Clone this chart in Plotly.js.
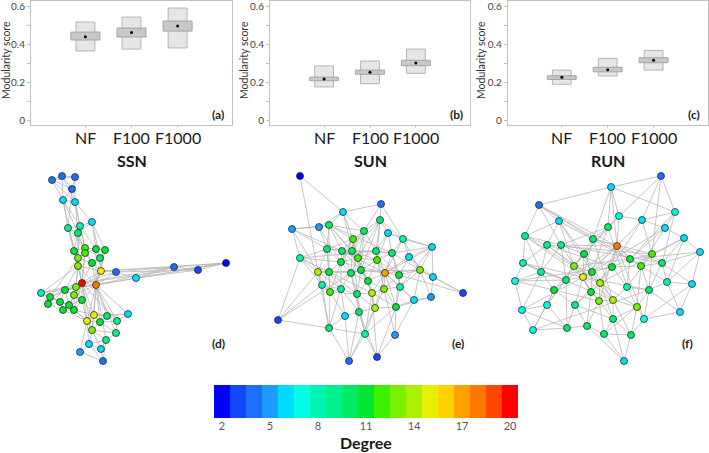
<!DOCTYPE html>
<html><head><meta charset="utf-8">
<script src="https://cdn.plot.ly/plotly-3.0.1.min.js"></script>
<style>html,body{margin:0;padding:0;background:#fff}#chart{width:709px;height:453px}</style>
</head><body><div id="chart"></div>
<script>
// ---------- top panels: modularity score ----------
const groups = ['NF', 'F100', 'F1000'];
const ssnOuterLow  = [0.366, 0.376, 0.382];
const ssnOuterHigh = [0.519, 0.545, 0.593];
const ssnBandLow   = [0.424, 0.440, 0.471];
const ssnBandHigh  = [0.466, 0.487, 0.524];
const ssnMean      = [0.441, 0.464, 0.498];

const sunOuterLow  = [0.176, 0.193, 0.248];
const sunOuterHigh = [0.287, 0.313, 0.376];
const sunBandLow   = [0.209, 0.243, 0.288];
const sunBandHigh  = [0.228, 0.265, 0.317];
const sunMean      = [0.218, 0.253, 0.302];

const runOuterLow  = [0.190, 0.234, 0.265];
const runOuterHigh = [0.265, 0.327, 0.369];
const runBandLow   = [0.216, 0.256, 0.304];
const runBandHigh  = [0.235, 0.280, 0.330];
const runMean      = [0.227, 0.267, 0.317];

const networkNames = ['SSN', 'SUN', 'RUN'];
const yTicks = [0, 0.2, 0.4, 0.6];
const yTickText = ['0', '0.2', '0.4', '0.6'];

// ---------- degree colour scale ----------
const degrees = [2,3,4,5,6,7,8,9,10,11,12,13,14,15,16,17,18,19,20];
const degreeColors = ['#0000ff','#1446ff','#1e6eff','#1e9bff','#00dcff','#00ffe6','#00f5b4','#00f08c',
  '#00eb64','#00e632','#3cf000','#78f000','#aaf000','#e6f000','#ffd200','#ffa000','#ff7800','#ff4600','#ff0000'];
const degreeTicks = [2,5,8,11,14,17,20];

// ---------- networks (layout coordinates, degree, links) ----------
const ssnX = [52,62,75,72,63,75,92,68,80,78, 74,85,96,105,85,78,100,92,78,101, 116,136,174,198,226,82,96,41,50,65,
  76,74,82,48,60,69,63,74,128,94, 107,87,100,117,92,116,106,89,80,101, 103];
const ssnY = [30,26,27,39,50,52,72,78,76,83, 101,98,99,100,103,108,108,113,116,121, 122,128,117,120,113,133,135,143,147,140,
  137,145,150,154,152,155,160,160,164,165, 166,171,172,171,180,183,190,194,202,199, 211];
const ssnDeg = [4,4,4,4,6,6,6,9,8,10, 11,12,11,11,12,13,10,11,13,15, 4,6,4,3,2,20,18,8,11,11,
  13,13,11,11,11,11,11,11,6,15, 10,15,11,9,13,9,9,6,5,6, 4];
const ssnLinks = [
  [1,[2,3,4,5,6]],[2,[3,4,5,6]],[3,[4,6]],[4,[5,6,8]],[5,[6,8,9,10,11]],[6,[7,9,10,12]],
  [7,[9,10,13,14,17]],[8,[9,10,11,12,16]],[9,[10,12,13,16]],[10,[11,15,16,19]],
  [11,[12,15,16,19,26]],[12,[13,15,17,18,26]],[13,[14,15,17,27]],[14,[17,20,27]],[15,[16,18,26]],
  [16,[18,19,26,29,31]],[17,[18,20,27]],[18,[20,26,27]],[19,[20,26,27,28,30,31]],[20,[21,23,25,26,27]],
  [21,[22,23,24,26,27]],[22,[23,24,25,27]],[23,[24,25,26,27]],[24,[25]],[25,[26,27]],
  [26,[27,28,29,30,31,32,33,36,38,40,42,44,45]],[27,[30,31,32,33,39,40,41,42,43,44,45,46,47]],
  [28,[29,30,31,34,35]],[29,[30,31,34,35,36]],[30,[31,32,34,35,36]],[31,[32,33]],[32,[33,36,38]],
  [33,[36,38,40,42]],[34,[35,37]],[35,[36,37]],[36,[37,38,42]],[37,[38,42]],[38,[40,42]],
  [39,[40,41,44]],[40,[41,42,43,45]],[41,[43,44]],[42,[43,45,48,49]],[43,[44,45,46]],[44,[46]],
  [45,[46,47,48,50]],[46,[47]],[47,[48,50,51]],[48,[49,50,51]],[49,[51]],[50,[51]]
];

const sunX = [60,141,103,52,79,89,140,124,148,163, 113,192,60,87,102,112,136,152,169,101, 118,137,78,89,111,121,145,159,180,193,
  82,128,90,101,117,132,144,160,223,191, 174,135,156,119,105,38,89,125,155,109, 137];
const sunY = [26,54,62,79,77,75,70,81,83,89, 89,97,108,99,101,101,101,103,107,112, 108,110,122,122,123,120,123,125,120,127,
  135,131,142,139,144,143,139,137,143,147, 150,158,157,162,166,170,178,184,185,211, 207];
const sunDeg = [2,4,6,5,5,10,10,10,6,8, 12,6,8,10,10,10,10,10,6,11, 12,12,14,11,10,11,17,11,13,6,
  8,11,12,9,10,14,13,8,3,5, 6,14,11,10,6,3,10,8,5,4, 3];
const sunLinks = [
  [1,[3,23]],[2,[3,7,8,10]],[3,[5,6,8,11,16]],[4,[5,6,13,14,21,23]],[5,[6,14,20]],
  [6,[8,11,14,15,16,21,24,18]],[7,[8,9,10,16,17,21,22,26]],[8,[11,15,16,17,20,21,26]],[9,[10,12,17,18,22]],
  [10,[12,18,19,27,29]],[11,[14,15,16,20,21,25,35]],[12,[18,19,27,29,30,38]],[13,[14,17,20,23,24,31,46,36]],
  [14,[15,18,20,23,24,33]],[15,[16,20,21,25,26,27]],[16,[17,21,22,26,32]],[17,[18,21,22,27,28,37]],
  [18,[22,27,28,29,38]],[19,[27,28,29,30]],[20,[21,24,25,27,33,34]],[21,[22,25,26,32,36]],
  [22,[26,27,28,32,37]],[23,[24,31,33,34,46,47,29]],[24,[25,31,33,34,35]],[25,[26,32,34,35,44]],
  [26,[27,32,35,36]],[27,[28,29,32,36,37,38,41,42,43]],[28,[29,37,38,39,43]],[29,[30,38,39,40,41]],
  [30,[39,40]],[31,[33,34,46,47]],[32,[35,36,37,42]],[33,[34,35,45,47]],[34,[35,44,45,47]],
  [35,[36,42,44,48]],[36,[37,42,43,48,51]],[37,[38,42,43,49]],[38,[41,43]],[40,[41,43]],[41,[43,49]],
  [42,[43,44,48,50]],[43,[48,49,51]],[44,[45,48,50,51]],[45,[47,50]],[46,[47,25]],[47,[48,50]],
  [48,[50,51]],[49,[51]]
];

const runX = [191,141,69,205,89,149,172,195,138,55, 77,91,123,214,147,230,114,160,182,53, 104,142,171,192,71,122,45,96,113,130,
  197,222,84,121,157,179,129,143,52,77, 105,167,210,143,174,63,97,117,134,161, 154];
const runY = [26,37,55,62,71,66,70,78,77,86, 95,95,89,88,96,102,104,109,104,113, 116,117,116,113,122,122,131,130,127,133,
  132,134,140,142,137,140,151,150,160,155, 155,157,162,169,169,180,178,176,184,185, 211];
const runDeg = [4,6,4,7,6,7,6,6,10,9, 9,9,10,6,18,6,11,11,12,8, 13,11,12,10,9,11,7,10,15,14,
  8,6,11,11,8,10,13,14,7,7, 9,13,6,10,7,7,10,10,10,10, 6];
const runLinks = [
  [1,[2,4,7,9,19]],[2,[3,4,6,9,13,15]],[3,[5,10,12,13,18,15]],[4,[7,8,18,24]],[5,[10,11,17,21,26,23]],
  [6,[7,9,15,21]],[7,[8,15,19,22]],[8,[14,18,23,29]],[9,[12,13,17,26,35]],[10,[11,12,20,25,29,30]],
  [11,[20,21,22,25,30,19]],[12,[15,17,25,28,34,24]],[13,[15,19,21,29,38]],[14,[16,19,24,31,30]],
  [15,[18,22,23,24,26,28,29,30,37,45]],[16,[18,24,31,32]],[17,[21,26,29,33,38]],[18,[19,21,22,23,35]],
  [19,[23,24,35,36]],[20,[25,27,28,29,38]],[21,[26,28,37,40]],[22,[23,26,30,35,41,27]],[23,[24,31,36,42]],
  [24,[31,32,36]],[25,[27,28,33,39]],[26,[30,34,38]],[27,[28,33,39]],[28,[29,33,40,47]],
  [29,[30,34,36,38,41,39]],[30,[34,37,42,44]],[31,[32,36,43]],[32,[43,45]],[33,[37,40,41,46]],
  [34,[37,41,48]],[35,[36,38,42]],[36,[42,43,45,46]],[37,[38,44,48,49]],[38,[42,44,50]],
  [39,[40,46,47]],[40,[46,47]],[41,[44,47,48]],[42,[44,45,49,50]],[43,[45]],[44,[49,50,51]],
  [45,[50]],[46,[47]],[47,[48]],[48,[49,51]],[49,[50,51]],[50,[51]]
];

// ---------- helpers ----------
const W = 709, H = 453;
const px = v => v / W;
const py = v => 1 - v / H;
const FONT = 'Lato, "Open Sans", sans-serif';

const stepScale = [];
degreeColors.forEach((c, i) => {
  stepScale.push([i / degreeColors.length, c]);
  stepScale.push([(i + 1) / degreeColors.length, c]);
});

const traces = [];
const layout = {
  width: W, height: H, margin: {l: 0, r: 0, t: 0, b: 0},
  paper_bgcolor: '#fff', plot_bgcolor: '#fff',
  showlegend: false, barmode: 'overlay', hovermode: false,
  font: {family: FONT, color: '#333'},
  annotations: []
};

const panels = [
  {oL: ssnOuterLow, oH: ssnOuterHigh, bL: ssnBandLow, bH: ssnBandHigh, m: ssnMean, x0: 31, x1: 232, tx: 6, tag: '(a)'},
  {oL: sunOuterLow, oH: sunOuterHigh, bL: sunBandLow, bH: sunBandHigh, m: sunMean, x0: 270, x1: 470, tx: 244, tag: '(b)'},
  {oL: runOuterLow, oH: runOuterHigh, bL: runBandLow, bH: runBandHigh, m: runMean, x0: 507.7, x1: 707.7, tx: 481, tag: '(c)'}
];
const cats = groups.map((g, i) => i);

panels.forEach((p, k) => {
  const n = k + 1;
  const xa = 'x' + (n === 1 ? '' : n), ya = 'y' + (n === 1 ? '' : n);
  traces.push({type: 'bar', x: cats, base: p.oL, y: p.oH.map((v, i) => v - p.oL[i]), width: 0.41,
    xaxis: xa, yaxis: ya, marker: {color: '#e6e6e6', line: {color: '#b4b4b4', width: 1}}});
  traces.push({type: 'bar', x: cats, base: p.bL, y: p.bH.map((v, i) => v - p.bL[i]), width: 0.63,
    xaxis: xa, yaxis: ya, marker: {color: '#c8c8c8', line: {color: '#a4a4a4', width: 1}}});
  traces.push({type: 'scatter', mode: 'markers', x: cats, y: p.m, xaxis: xa, yaxis: ya,
    marker: {color: '#000', size: 3}});
  layout['xaxis' + (n === 1 ? '' : n)] = {
    domain: [px(p.x0), px(p.x1)], anchor: ya, range: [-1.18, 3.18],
    tickvals: cats, showticklabels: false, ticks: 'outside', ticklen: 2, tickcolor: '#d0d0d0',
    showgrid: false, zeroline: false,
    showline: true, linecolor: '#c0c0c0', linewidth: 1, mirror: true, fixedrange: true
  };
  layout['yaxis' + (n === 1 ? '' : n)] = {
    domain: [py(125), py(1)], anchor: xa, range: [-0.025, 0.63],
    tickvals: yTicks, ticktext: yTickText, ticks: 'outside', ticklen: 3, tickcolor: '#c0c0c0',
    ticklabeloverflow: 'allow',
    minor: {dtick: 0.1, ticks: 'outside', ticklen: 3, tickcolor: '#c0c0c0'},
    tickfont: {size: 10, color: '#444', family: FONT}, showgrid: false, zeroline: false,
    showline: true, linecolor: '#c0c0c0', linewidth: 1, mirror: true, fixedrange: true
  };
  groups.forEach((g, i) => layout.annotations.push({xref: xa, yref: 'paper', x: cats[i], y: py(137), text: g,
    showarrow: false, font: {size: 16, color: '#1a1a1a', family: FONT}, xanchor: 'center', yanchor: 'middle'}));
  layout.annotations.push({xref: 'paper', yref: 'paper', x: px(p.tx), y: py(60), text: 'Modularity score',
    textangle: -90, showarrow: false, font: {size: 10.5, color: '#333', family: FONT}, xanchor: 'center', yanchor: 'middle'});
  layout.annotations.push({xref: 'paper', yref: 'paper', x: px(p.x1 - 14), y: py(115), text: '<b>' + p.tag + '</b>',
    showarrow: false, font: {size: 12, color: '#222', family: FONT}, xanchor: 'center', yanchor: 'middle'});
  layout.annotations.push({xref: xa, yref: 'paper', x: 1, y: py(160), text: '<b>' + networkNames[k] + '</b>',
    showarrow: false, font: {size: 16, color: '#1a1a1a', family: FONT}, xanchor: 'center', yanchor: 'middle'});
});

// ---------- network panels ----------
const nets = [
  {x: ssnX, y: ssnY, d: ssnDeg, links: ssnLinks, ox: 0, w: 240, tag: '(d)'},
  {x: sunX, y: sunY, d: sunDeg, links: sunLinks, ox: 240, w: 240, tag: '(e)'},
  {x: runX, y: runY, d: runDeg, links: runLinks, ox: 470, w: 239, tag: '(f)'}
];
nets.forEach((net, k) => {
  const n = k + 4;
  const xa = 'x' + n, ya = 'y' + n;
  const ex = [], ey = [];
  net.links.forEach(([a, list]) => list.forEach(b => {
    ex.push(net.x[a - 1], net.x[b - 1], null);
    ey.push(net.y[a - 1], net.y[b - 1], null);
  }));
  traces.push({type: 'scatter', mode: 'lines', x: ex, y: ey, xaxis: xa, yaxis: ya,
    line: {color: '#b8b8b8', width: 0.8}});
  traces.push({type: 'scatter', mode: 'markers', x: net.x, y: net.y, xaxis: xa, yaxis: ya,
    marker: {size: 7, color: net.d, colorscale: stepScale, cmin: 1.5, cmax: 20.5, showscale: false,
      line: {color: '#2a2a2a', width: 0.8}}});
  layout['xaxis' + n] = {domain: [px(net.ox), px(net.ox + net.w)], range: [0, net.w], anchor: ya, visible: false, fixedrange: true};
  layout['yaxis' + n] = {domain: [py(380), py(150)], range: [230, 0], anchor: xa, visible: false, fixedrange: true};
  layout.annotations.push({xref: 'paper', yref: 'paper', x: px(net.ox + net.w - 22), y: py(343), text: '<b>' + net.tag + '</b>',
    showarrow: false, font: {size: 12, color: '#222', family: FONT}, xanchor: 'center', yanchor: 'middle'});
});

// ---------- degree colour bar ----------
traces.push({type: 'heatmap', x: degrees, y: [0], z: [degrees], xaxis: 'x7', yaxis: 'y7',
  colorscale: stepScale, zmin: 1.5, zmax: 20.5, showscale: false});
layout.xaxis7 = {domain: [px(214), px(518)], range: [1.5, 20.5], anchor: 'y7', tickvals: degreeTicks,
  ticks: '', showline: false, showgrid: false, zeroline: false, tickfont: {size: 11, color: '#555', family: FONT}, fixedrange: true};
layout.yaxis7 = {domain: [py(418), py(385)], range: [-0.5, 0.5], anchor: 'x7', visible: false, fixedrange: true};
layout.annotations.push({xref: 'paper', yref: 'paper', x: px(366), y: py(442), text: '<b>Degree</b>',
  showarrow: false, font: {size: 16, color: '#1a1a1a', family: FONT}, xanchor: 'center', yanchor: 'middle'});

Plotly.newPlot('chart', traces, layout, {staticPlot: true, displayModeBar: false});
</script></body></html>
